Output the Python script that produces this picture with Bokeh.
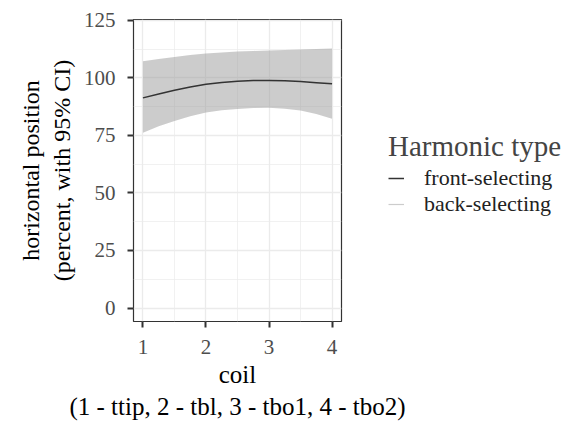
from bokeh.plotting import figure
from bokeh.models import (ColumnDataSource, Range1d, FixedTicker, Legend, LegendItem)
from bokeh.embed import file_html
from bokeh.resources import INLINE

# ---- data ----
coil = [1.0, 1.25, 1.5, 1.75, 2.0, 2.25, 2.5, 2.75, 3.0, 3.25, 3.5, 3.75, 4.0]
front_fit = [91.3, 93.0, 94.6, 96.0, 97.2, 98.0, 98.5, 98.8, 98.8, 98.7, 98.4, 97.9, 97.4]
back_fit = [91.3, 93.0, 94.6, 96.0, 97.2, 98.0, 98.5, 98.8, 98.8, 98.7, 98.4, 97.9, 97.4]
ci_upper = [107.2, 108.2, 109.1, 109.9, 110.6, 111.0, 111.4, 111.7, 111.9, 112.1, 112.3, 112.5, 112.7]
ci_lower = [76.2, 79.0, 81.3, 83.3, 84.9, 85.9, 86.5, 86.9, 87.0, 86.6, 85.8, 84.3, 82.2]
x_ticks = [1, 2, 3, 4]
y_ticks = [0, 25, 50, 75, 100, 125]
series_names = ["front-selecting", "back-selecting"]
series_colors = ["#333333", "#cccccc"]
x_title = "coil\n(1 - ttip, 2 - tbl, 3 - tbo1, 4 - tbo2)"
y_title = "horizontal position\n(percent, with 95% CI)"
legend_title = "Harmonic type"

FONT = "Liberation Serif"

src = ColumnDataSource(dict(x=coil, front=front_fit, back=back_fit,
                            up=ci_upper, lo=ci_lower))

p = figure(frame_width=208, frame_height=302, output_backend="svg",
           toolbar_location=None,
           x_range=Range1d(0.85, 4.15), y_range=Range1d(-5.86, 125.35),
           min_border_left=133, min_border_right=238, min_border_top=19,
           min_border_bottom=100)

p.background_fill_color = "white"
p.border_fill_color = "white"
p.outline_line_color = "#333333"
p.outline_line_width = 1.2

# grid
p.xgrid.ticker = FixedTicker(ticks=x_ticks, minor_ticks=[1.5, 2.5, 3.5])
p.ygrid.ticker = FixedTicker(ticks=y_ticks, minor_ticks=[12.5, 37.5, 62.5, 87.5, 112.5])
for g in (p.xgrid, p.ygrid):
    g.grid_line_color = "#ebebeb"
    g.grid_line_width = 1.3
    g.minor_grid_line_color = "#ebebeb"
    g.minor_grid_line_width = 0.7

# axes
p.xaxis.ticker = FixedTicker(ticks=x_ticks)
p.yaxis.ticker = FixedTicker(ticks=y_ticks)
for ax in (p.xaxis, p.yaxis):
    ax.axis_line_color = None
    ax.major_tick_out = 6
    ax.major_tick_in = 0
    ax.minor_tick_out = 0
    ax.minor_tick_in = 0
    ax.major_tick_line_color = "#333333"
    ax.major_tick_line_width = 2
    ax.major_label_text_font = FONT
    ax.major_label_text_font_size = "21px"
    ax.major_label_text_color = "#4d4d4d"
    ax.axis_label_text_font = FONT
    ax.axis_label_text_font_style = "normal"
    ax.axis_label_text_color = "black"
p.xaxis.axis_label_text_font_size = "25px"
p.yaxis.axis_label_text_font_size = "24px"
p.xaxis.major_label_standoff = 12
p.yaxis.major_label_standoff = 12
p.xaxis.axis_label = x_title
p.yaxis.axis_label = y_title
p.xaxis.axis_label_standoff = 4
p.yaxis.axis_label_standoff = 6

# ribbon and lines
p.varea(x="x", y1="lo", y2="up", source=src, fill_color="#999999", fill_alpha=0.5)
r_back = p.line("x", "back", source=src, line_color=series_colors[1], line_width=1.2)
r_front = p.line("x", "front", source=src, line_color=series_colors[0], line_width=1.5)

legend = Legend(items=[LegendItem(label=series_names[0], renderers=[r_front]),
                       LegendItem(label=series_names[1], renderers=[r_back])],
                location=(47, 104), title=legend_title,
                title_text_font=FONT, title_text_font_size="29px",
                title_text_font_style="normal", title_standoff=2,
                label_text_font=FONT, label_text_font_size="22px",
                label_text_color="#222222",
                glyph_width=16, glyph_height=20, label_height=20,
                label_standoff=20, spacing=-6, padding=0, margin=0,
                border_line_color=None, background_fill_alpha=0)
p.add_layout(legend, "right")

open("out.html", "w").write(file_html(p, INLINE))
